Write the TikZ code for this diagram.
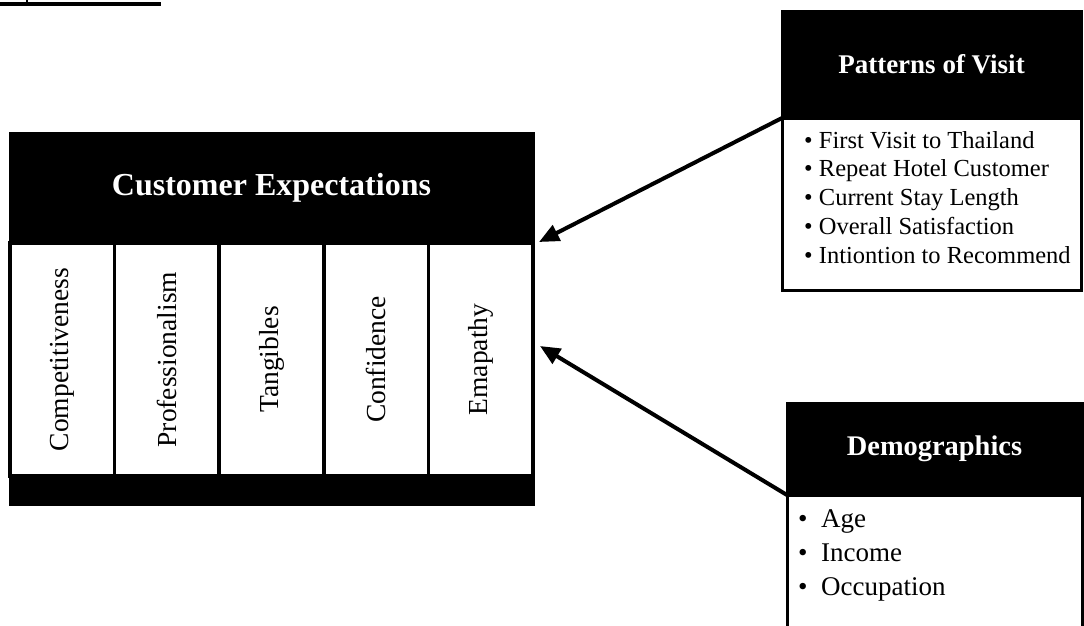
\documentclass[tikz,border=0pt]{standalone}
\usepackage{fontspec}
\setmainfont{Liberation Serif}
\usetikzlibrary{arrows.meta,backgrounds}
\begin{document}
\begin{tikzpicture}[x=1pt,y=-1pt,
  headbox/.style={draw=black, fill=black, line width=3pt, inner sep=0pt,
    outer sep=0pt, text=white, font=\bfseries, anchor=north west},
  bodybox/.style={draw=black, fill=white, line width=3pt, inner sep=0pt,
    outer sep=0pt, anchor=north west},
  cellbox/.style={draw=black, fill=white, line width=3.5pt, inner sep=0pt,
    outer sep=0pt, anchor=north west, minimum width=104.6pt, minimum height=233pt},
  celltext/.style={rotate=90, inner sep=0pt, font=\fontsize{27.5}{30}\selectfont},
  pvitem/.style={inner sep=0pt, anchor=base west, font=\fontsize{24.5}{28}\selectfont},
  dmitem/.style={inner sep=0pt, anchor=base west, font=\fontsize{27}{32}\selectfont},
  influence/.style={line width=4pt, -{Triangle[length=20pt,width=17pt]}}
]
\useasboundingbox (0,0) rectangle (1084,625);
\clip (0,0) rectangle (1084,625);

% rule left over from the caption above
\fill (0,2) rectangle (161,6);
\fill (26,0) rectangle (28,2);

% customer expectations block
\node[headbox, minimum width=523pt, minimum height=110pt,
      font=\bfseries\fontsize{32}{38}\selectfont] (cehead) at (10,133)
      {Customer Expectations};
\foreach \i/\lbl in {1/Competitiveness,2/Professionalism,3/Tangibles,4/Confidence,5/Emapathy}{
  \node[cellbox] (cell\i) at ({10+(\i-1)*104.6},243) {};
  \node[celltext] (lbl\i) at (cell\i.center) {\lbl};
}
\node[headbox, minimum width=523pt, minimum height=28pt] (cefoot) at (10,476) {};

% patterns of visit
\node[headbox, minimum width=299pt, minimum height=107pt,
      font=\bfseries\fontsize{27}{32}\selectfont] (pvhead) at (782,11)
      {Patterns of Visit};
\node[bodybox, minimum width=299pt, minimum height=172pt] (pvbody) at (782,118) {};
\foreach \j/\item in {0/First Visit to Thailand,1/Repeat Hotel Customer,
                      2/Current Stay Length,3/Overall Satisfaction,
                      4/Intiontion to Recommend}{
  \node[pvitem] (pv\j) at (804,{148+\j*28.75}) {\textbullet\ \item};
}

% demographics
\node[headbox, minimum width=295pt, minimum height=92pt,
      font=\bfseries\fontsize{28.4}{34}\selectfont] (dmhead) at (787,403)
      {Demographics};
\node[bodybox, minimum width=295pt, minimum height=160pt] (dmbody) at (787,495) {};
\foreach \j/\item in {0/Age,1/Income,2/Occupation}{
  \node[dmitem] (dm\j) at (798,{527+\j*34}) {\makebox[23pt][l]{\textbullet}\item};
}

% arrow targets on the right side of the block
\coordinate (tipA) at (539,242);
\coordinate (tipB) at (540,346);

\begin{scope}[on background layer]
  \draw[influence] (pvhead.south west) -- (tipA);
  \draw[influence] (dmhead.south west) -- (tipB);
\end{scope}
\end{tikzpicture}
\end{document}
